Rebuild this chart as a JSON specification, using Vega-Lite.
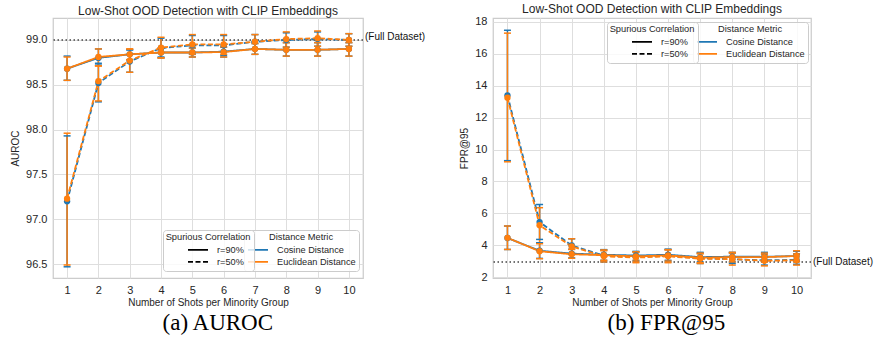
{
  "$schema": "https://vega.github.io/schema/vega-lite/v6.json",
  "padding": {"left": 9, "top": 2, "right": 0, "bottom": 0},
  "datasets": {
    "auroc": [
      {"shots":1,"metric":"Cosine Distance","corr":"r=90%","value":98.68,"lo":98.55,"hi":98.82},
      {"shots":2,"metric":"Cosine Distance","corr":"r=90%","value":98.80,"lo":98.72,"hi":98.90},
      {"shots":3,"metric":"Cosine Distance","corr":"r=90%","value":98.84,"lo":98.78,"hi":98.89},
      {"shots":4,"metric":"Cosine Distance","corr":"r=90%","value":98.86,"lo":98.81,"hi":98.91},
      {"shots":5,"metric":"Cosine Distance","corr":"r=90%","value":98.86,"lo":98.81,"hi":98.91},
      {"shots":6,"metric":"Cosine Distance","corr":"r=90%","value":98.87,"lo":98.81,"hi":98.92},
      {"shots":7,"metric":"Cosine Distance","corr":"r=90%","value":98.90,"lo":98.84,"hi":98.96},
      {"shots":8,"metric":"Cosine Distance","corr":"r=90%","value":98.89,"lo":98.82,"hi":98.97},
      {"shots":9,"metric":"Cosine Distance","corr":"r=90%","value":98.89,"lo":98.82,"hi":98.97},
      {"shots":10,"metric":"Cosine Distance","corr":"r=90%","value":98.90,"lo":98.82,"hi":98.97},
      {"shots":1,"metric":"Cosine Distance","corr":"r=50%","value":97.20,"lo":96.47,"hi":97.93},
      {"shots":2,"metric":"Cosine Distance","corr":"r=50%","value":98.52,"lo":98.31,"hi":98.74},
      {"shots":3,"metric":"Cosine Distance","corr":"r=50%","value":98.76,"lo":98.64,"hi":98.89},
      {"shots":4,"metric":"Cosine Distance","corr":"r=50%","value":98.91,"lo":98.80,"hi":99.02},
      {"shots":5,"metric":"Cosine Distance","corr":"r=50%","value":98.94,"lo":98.84,"hi":99.05},
      {"shots":6,"metric":"Cosine Distance","corr":"r=50%","value":98.94,"lo":98.83,"hi":99.05},
      {"shots":7,"metric":"Cosine Distance","corr":"r=50%","value":98.98,"lo":98.90,"hi":99.06},
      {"shots":8,"metric":"Cosine Distance","corr":"r=50%","value":99.00,"lo":98.92,"hi":99.08},
      {"shots":9,"metric":"Cosine Distance","corr":"r=50%","value":99.01,"lo":98.93,"hi":99.09},
      {"shots":10,"metric":"Cosine Distance","corr":"r=50%","value":99.00,"lo":98.93,"hi":99.07},
      {"shots":1,"metric":"Euclidean Distance","corr":"r=90%","value":98.68,"lo":98.55,"hi":98.81},
      {"shots":2,"metric":"Euclidean Distance","corr":"r=90%","value":98.81,"lo":98.71,"hi":98.90},
      {"shots":3,"metric":"Euclidean Distance","corr":"r=90%","value":98.84,"lo":98.78,"hi":98.90},
      {"shots":4,"metric":"Euclidean Distance","corr":"r=90%","value":98.86,"lo":98.80,"hi":98.91},
      {"shots":5,"metric":"Euclidean Distance","corr":"r=90%","value":98.86,"lo":98.81,"hi":98.91},
      {"shots":6,"metric":"Euclidean Distance","corr":"r=90%","value":98.865,"lo":98.81,"hi":98.92},
      {"shots":7,"metric":"Euclidean Distance","corr":"r=90%","value":98.90,"lo":98.84,"hi":98.96},
      {"shots":8,"metric":"Euclidean Distance","corr":"r=90%","value":98.89,"lo":98.82,"hi":98.97},
      {"shots":9,"metric":"Euclidean Distance","corr":"r=90%","value":98.89,"lo":98.82,"hi":98.97},
      {"shots":10,"metric":"Euclidean Distance","corr":"r=90%","value":98.90,"lo":98.82,"hi":98.97},
      {"shots":1,"metric":"Euclidean Distance","corr":"r=50%","value":97.23,"lo":96.49,"hi":97.96},
      {"shots":2,"metric":"Euclidean Distance","corr":"r=50%","value":98.54,"lo":98.32,"hi":98.71},
      {"shots":3,"metric":"Euclidean Distance","corr":"r=50%","value":98.77,"lo":98.64,"hi":98.90},
      {"shots":4,"metric":"Euclidean Distance","corr":"r=50%","value":98.915,"lo":98.80,"hi":99.03},
      {"shots":5,"metric":"Euclidean Distance","corr":"r=50%","value":98.95,"lo":98.84,"hi":99.06},
      {"shots":6,"metric":"Euclidean Distance","corr":"r=50%","value":98.95,"lo":98.84,"hi":99.06},
      {"shots":7,"metric":"Euclidean Distance","corr":"r=50%","value":98.98,"lo":98.90,"hi":99.06},
      {"shots":8,"metric":"Euclidean Distance","corr":"r=50%","value":99.01,"lo":98.92,"hi":99.09},
      {"shots":9,"metric":"Euclidean Distance","corr":"r=50%","value":99.02,"lo":98.93,"hi":99.10},
      {"shots":10,"metric":"Euclidean Distance","corr":"r=50%","value":99.00,"lo":98.93,"hi":99.07}
    ],
    "fpr": [
      {"shots":1,"metric":"Cosine Distance","corr":"r=90%","value":4.45,"lo":3.73,"hi":5.20},
      {"shots":2,"metric":"Cosine Distance","corr":"r=90%","value":3.65,"lo":3.17,"hi":4.15},
      {"shots":3,"metric":"Cosine Distance","corr":"r=90%","value":3.47,"lo":3.20,"hi":3.75},
      {"shots":4,"metric":"Cosine Distance","corr":"r=90%","value":3.40,"lo":3.05,"hi":3.72},
      {"shots":5,"metric":"Cosine Distance","corr":"r=90%","value":3.35,"lo":3.05,"hi":3.60},
      {"shots":6,"metric":"Cosine Distance","corr":"r=90%","value":3.40,"lo":3.05,"hi":3.75},
      {"shots":7,"metric":"Cosine Distance","corr":"r=90%","value":3.25,"lo":2.95,"hi":3.55},
      {"shots":8,"metric":"Cosine Distance","corr":"r=90%","value":3.28,"lo":2.95,"hi":3.55},
      {"shots":9,"metric":"Cosine Distance","corr":"r=90%","value":3.27,"lo":2.95,"hi":3.55},
      {"shots":10,"metric":"Cosine Distance","corr":"r=90%","value":3.32,"lo":3.00,"hi":3.62},
      {"shots":1,"metric":"Cosine Distance","corr":"r=50%","value":13.40,"lo":9.30,"hi":17.48},
      {"shots":2,"metric":"Cosine Distance","corr":"r=50%","value":5.45,"lo":4.36,"hi":6.55},
      {"shots":3,"metric":"Cosine Distance","corr":"r=50%","value":3.98,"lo":3.45,"hi":4.40},
      {"shots":4,"metric":"Cosine Distance","corr":"r=50%","value":3.35,"lo":2.95,"hi":3.70},
      {"shots":5,"metric":"Cosine Distance","corr":"r=50%","value":3.27,"lo":2.95,"hi":3.60},
      {"shots":6,"metric":"Cosine Distance","corr":"r=50%","value":3.33,"lo":2.95,"hi":3.72},
      {"shots":7,"metric":"Cosine Distance","corr":"r=50%","value":3.18,"lo":2.85,"hi":3.50},
      {"shots":8,"metric":"Cosine Distance","corr":"r=50%","value":3.12,"lo":2.85,"hi":3.50},
      {"shots":9,"metric":"Cosine Distance","corr":"r=50%","value":3.05,"lo":2.75,"hi":3.45},
      {"shots":10,"metric":"Cosine Distance","corr":"r=50%","value":3.08,"lo":2.80,"hi":3.45},
      {"shots":1,"metric":"Euclidean Distance","corr":"r=90%","value":4.46,"lo":3.73,"hi":5.20},
      {"shots":2,"metric":"Euclidean Distance","corr":"r=90%","value":3.62,"lo":3.15,"hi":4.09},
      {"shots":3,"metric":"Euclidean Distance","corr":"r=90%","value":3.43,"lo":3.18,"hi":3.73},
      {"shots":4,"metric":"Euclidean Distance","corr":"r=90%","value":3.37,"lo":3.05,"hi":3.70},
      {"shots":5,"metric":"Euclidean Distance","corr":"r=90%","value":3.30,"lo":3.00,"hi":3.58},
      {"shots":6,"metric":"Euclidean Distance","corr":"r=90%","value":3.36,"lo":3.00,"hi":3.72},
      {"shots":7,"metric":"Euclidean Distance","corr":"r=90%","value":3.21,"lo":2.90,"hi":3.50},
      {"shots":8,"metric":"Euclidean Distance","corr":"r=90%","value":3.25,"lo":2.95,"hi":3.55},
      {"shots":9,"metric":"Euclidean Distance","corr":"r=90%","value":3.25,"lo":2.95,"hi":3.50},
      {"shots":10,"metric":"Euclidean Distance","corr":"r=90%","value":3.32,"lo":2.95,"hi":3.65},
      {"shots":1,"metric":"Euclidean Distance","corr":"r=50%","value":13.25,"lo":9.23,"hi":17.30},
      {"shots":2,"metric":"Euclidean Distance","corr":"r=50%","value":5.25,"lo":4.15,"hi":6.35},
      {"shots":3,"metric":"Euclidean Distance","corr":"r=50%","value":3.92,"lo":3.42,"hi":4.40},
      {"shots":4,"metric":"Euclidean Distance","corr":"r=50%","value":3.30,"lo":2.95,"hi":3.65},
      {"shots":5,"metric":"Euclidean Distance","corr":"r=50%","value":3.22,"lo":2.90,"hi":3.55},
      {"shots":6,"metric":"Euclidean Distance","corr":"r=50%","value":3.30,"lo":2.90,"hi":3.70},
      {"shots":7,"metric":"Euclidean Distance","corr":"r=50%","value":3.15,"lo":2.85,"hi":3.45},
      {"shots":8,"metric":"Euclidean Distance","corr":"r=50%","value":3.12,"lo":2.75,"hi":3.50},
      {"shots":9,"metric":"Euclidean Distance","corr":"r=50%","value":3.02,"lo":2.70,"hi":3.40},
      {"shots":10,"metric":"Euclidean Distance","corr":"r=50%","value":3.05,"lo":2.75,"hi":3.45}
    ]
  },
  "hconcat": [
    {
      "title": {"text": "(a) AUROC", "orient": "bottom", "anchor": "middle", "font": "Liberation Serif", "fontSize": 23, "color": "#000000", "offset": 4},
      "vconcat": [
        {
          "width": 310,
          "height": 260,
          "title": {"text": "Low-Shot OOD Detection with CLIP Embeddings", "offset": 0},
          "data": {"name": "auroc"},
          "layer": [
            {
              "data": {"values": [{"ref": 99.0, "label": "(Full Dataset)"}]},
              "mark": {"type": "rule", "strokeDash": [1.5, 2.5], "color": "#444444", "strokeWidth": 1.6},
              "encoding": {"y": {"field": "ref", "type": "quantitative", "scale": {"domain": [96.345, 99.245], "nice": false, "zero": false}, "axis": {"values": [96.5, 97.0, 97.5, 98.0, 98.5, 99.0], "tickCount": 30, "format": ".1f", "title": "AUROC", "labelOverlap": false}}}
            },
            {
              "mark": {"type": "rule", "strokeWidth": 1.5},
              "encoding": {
                "x": {"field": "shots", "type": "quantitative", "scale": {"domain": [0.55, 10.45], "nice": false, "zero": false}, "axis": {"values": [1,2,3,4,5,6,7,8,9,10], "tickCount": 30, "format": "d", "title": "Number of Shots per Minority Group", "labelOverlap": false}},
                "y": {"field": "lo", "type": "quantitative", "scale": {"domain": [96.345, 99.245], "nice": false, "zero": false}},
                "y2": {"field": "hi"},
                "color": {"field": "metric", "type": "nominal", "scale": {"range": ["#1f77b4", "#ff7f0e"]}, "legend": null}
              }
            },
            {
              "mark": {"type": "tick", "orient": "horizontal", "size": 7, "thickness": 1.5, "opacity": 1},
              "encoding": {
                "x": {"field": "shots", "type": "quantitative", "scale": {"domain": [0.55, 10.45], "nice": false, "zero": false}},
                "y": {"field": "lo", "type": "quantitative", "scale": {"domain": [96.345, 99.245], "nice": false, "zero": false}},
                "color": {"field": "metric", "type": "nominal", "scale": {"range": ["#1f77b4", "#ff7f0e"]}, "legend": null}
              }
            },
            {
              "mark": {"type": "tick", "orient": "horizontal", "size": 7, "thickness": 1.5, "opacity": 1},
              "encoding": {
                "x": {"field": "shots", "type": "quantitative", "scale": {"domain": [0.55, 10.45], "nice": false, "zero": false}},
                "y": {"field": "hi", "type": "quantitative", "scale": {"domain": [96.345, 99.245], "nice": false, "zero": false}},
                "color": {"field": "metric", "type": "nominal", "scale": {"range": ["#1f77b4", "#ff7f0e"]}, "legend": null}
              }
            },
            {
              "mark": {"type": "line", "strokeWidth": 1.8},
              "encoding": {
                "x": {"field": "shots", "type": "quantitative", "scale": {"domain": [0.55, 10.45], "nice": false, "zero": false}},
                "y": {"field": "value", "type": "quantitative", "scale": {"domain": [96.345, 99.245], "nice": false, "zero": false}},
                "stroke": {"field": "metric", "type": "nominal", "scale": {"domain": ["Cosine Distance", "Euclidean Distance"], "range": ["#1f77b4", "#ff7f0e"]}, "legend": {"title": "Distance Metric", "orient": "none", "legendX": 191, "legendY": 212, "symbolType": "stroke", "symbolSize": 400, "symbolStrokeWidth": 1.8, "symbolOffset": 0}},
                "strokeDash": {"field": "corr", "type": "nominal", "scale": {"domain": ["r=90%", "r=50%"], "range": [[1, 0], [5, 2.5]]}, "legend": {"title": "Spurious Correlation", "orient": "none", "legendX": 110, "legendY": 212, "symbolType": "stroke", "symbolSize": 400, "symbolStrokeColor": "#000000", "symbolStrokeWidth": 1.8, "symbolOffset": 14}}
              }
            },
            {
              "mark": {"type": "point", "filled": true, "size": 40, "opacity": 1},
              "encoding": {
                "x": {"field": "shots", "type": "quantitative", "scale": {"domain": [0.55, 10.45], "nice": false, "zero": false}},
                "y": {"field": "value", "type": "quantitative", "scale": {"domain": [96.345, 99.245], "nice": false, "zero": false}},
                "color": {"field": "metric", "type": "nominal", "scale": {"range": ["#1f77b4", "#ff7f0e"]}, "legend": null}
              }
            },
            {
              "data": {"values": [{"ref": 99.0, "label": "(Full Dataset)"}]},
              "mark": {"type": "text", "align": "left", "baseline": "middle", "dx": 2, "dy": -3, "fontSize": 10, "color": "#111111", "clip": false},
              "encoding": {
                "x": {"datum": 10.45, "type": "quantitative"},
                "y": {"field": "ref", "type": "quantitative", "scale": {"domain": [96.345, 99.245], "nice": false, "zero": false}},
                "text": {"field": "label"}
              }
            }
          ]
        }
      ]
    },
    {
      "title": {"text": "(b) FPR@95", "orient": "bottom", "anchor": "middle", "font": "Liberation Serif", "fontSize": 23, "color": "#000000", "offset": 4},
      "vconcat": [
        {
          "width": 318,
          "height": 260,
          "title": {"text": "Low-Shot OOD Detection with CLIP Embeddings", "offset": 0},
          "data": {"name": "fpr"},
          "layer": [
            {
              "data": {"values": [{"ref": 2.94, "label": "(Full Dataset)"}]},
              "mark": {"type": "rule", "strokeDash": [1.5, 2.5], "color": "#444444", "strokeWidth": 1.6},
              "encoding": {"y": {"field": "ref", "type": "quantitative", "scale": {"domain": [1.94, 18.25], "nice": false, "zero": false}, "axis": {"values": [2,4,6,8,10,12,14,16,18], "tickCount": 30, "format": "d", "title": "FPR@95", "labelOverlap": false}}}
            },
            {
              "mark": {"type": "rule", "strokeWidth": 1.5},
              "encoding": {
                "x": {"field": "shots", "type": "quantitative", "scale": {"domain": [0.55, 10.45], "nice": false, "zero": false}, "axis": {"values": [1,2,3,4,5,6,7,8,9,10], "tickCount": 30, "format": "d", "title": "Number of Shots per Minority Group", "labelOverlap": false}},
                "y": {"field": "lo", "type": "quantitative", "scale": {"domain": [1.94, 18.25], "nice": false, "zero": false}},
                "y2": {"field": "hi"},
                "color": {"field": "metric", "type": "nominal", "scale": {"range": ["#1f77b4", "#ff7f0e"]}, "legend": null}
              }
            },
            {
              "mark": {"type": "tick", "orient": "horizontal", "size": 7, "thickness": 1.5, "opacity": 1},
              "encoding": {
                "x": {"field": "shots", "type": "quantitative", "scale": {"domain": [0.55, 10.45], "nice": false, "zero": false}},
                "y": {"field": "lo", "type": "quantitative", "scale": {"domain": [1.94, 18.25], "nice": false, "zero": false}},
                "color": {"field": "metric", "type": "nominal", "scale": {"range": ["#1f77b4", "#ff7f0e"]}, "legend": null}
              }
            },
            {
              "mark": {"type": "tick", "orient": "horizontal", "size": 7, "thickness": 1.5, "opacity": 1},
              "encoding": {
                "x": {"field": "shots", "type": "quantitative", "scale": {"domain": [0.55, 10.45], "nice": false, "zero": false}},
                "y": {"field": "hi", "type": "quantitative", "scale": {"domain": [1.94, 18.25], "nice": false, "zero": false}},
                "color": {"field": "metric", "type": "nominal", "scale": {"range": ["#1f77b4", "#ff7f0e"]}, "legend": null}
              }
            },
            {
              "mark": {"type": "line", "strokeWidth": 1.8},
              "encoding": {
                "x": {"field": "shots", "type": "quantitative", "scale": {"domain": [0.55, 10.45], "nice": false, "zero": false}},
                "y": {"field": "value", "type": "quantitative", "scale": {"domain": [1.94, 18.25], "nice": false, "zero": false}},
                "stroke": {"field": "metric", "type": "nominal", "scale": {"domain": ["Cosine Distance", "Euclidean Distance"], "range": ["#1f77b4", "#ff7f0e"]}, "legend": {"title": "Distance Metric", "orient": "none", "legendX": 200, "legendY": 4, "symbolType": "stroke", "symbolSize": 400, "symbolStrokeWidth": 1.8, "symbolOffset": 0}},
                "strokeDash": {"field": "corr", "type": "nominal", "scale": {"domain": ["r=90%", "r=50%"], "range": [[1, 0], [5, 2.5]]}, "legend": {"title": "Spurious Correlation", "orient": "none", "legendX": 114, "legendY": 4, "symbolType": "stroke", "symbolSize": 400, "symbolStrokeColor": "#000000", "symbolStrokeWidth": 1.8, "symbolOffset": 14}}
              }
            },
            {
              "mark": {"type": "point", "filled": true, "size": 40, "opacity": 1},
              "encoding": {
                "x": {"field": "shots", "type": "quantitative", "scale": {"domain": [0.55, 10.45], "nice": false, "zero": false}},
                "y": {"field": "value", "type": "quantitative", "scale": {"domain": [1.94, 18.25], "nice": false, "zero": false}},
                "color": {"field": "metric", "type": "nominal", "scale": {"range": ["#1f77b4", "#ff7f0e"]}, "legend": null}
              }
            },
            {
              "data": {"values": [{"ref": 2.94, "label": "(Full Dataset)"}]},
              "mark": {"type": "text", "align": "left", "baseline": "middle", "dx": 2, "dy": 0, "fontSize": 10, "color": "#111111", "clip": false},
              "encoding": {
                "x": {"datum": 10.45, "type": "quantitative"},
                "y": {"field": "ref", "type": "quantitative", "scale": {"domain": [1.94, 18.25], "nice": false, "zero": false}},
                "text": {"field": "label"}
              }
            }
          ]
        }
      ]
    }
  ],
  "spacing": 33,
  "resolve": {
    "scale": {"x": "independent", "y": "independent", "color": "independent", "stroke": "independent", "strokeDash": "independent"},
    "legend": {"stroke": "independent", "strokeDash": "independent"}
  },
  "config": {
    "font": "Liberation Sans",
    "background": "#ffffff",
    "view": {"stroke": "#cccccc", "strokeWidth": 1.25},
    "axis": {"grid": true, "gridColor": "#dedede", "gridWidth": 1, "domain": false, "ticks": false, "labelOverlap": false, "labelFontSize": 11, "labelColor": "#262626", "labelPadding": 6, "titleFontSize": 10, "titleFontWeight": "normal", "titleColor": "#262626", "titlePadding": 2},
    "axisY": {"titlePadding": 5},
    "title": {"fontSize": 12, "fontWeight": "normal", "color": "#262626"},
    "legend": {"fillColor": "rgba(255,255,255,0.8)", "strokeColor": "#cccccc", "cornerRadius": 3, "padding": 3, "titleFontSize": 9.3, "titleFontWeight": "normal", "titleColor": "#262626", "titleAnchor": "middle", "titlePadding": 2, "labelFontSize": 9.2, "labelColor": "#262626", "labelOffset": 8, "clipHeight": 11, "rowPadding": 1}
  }
}
